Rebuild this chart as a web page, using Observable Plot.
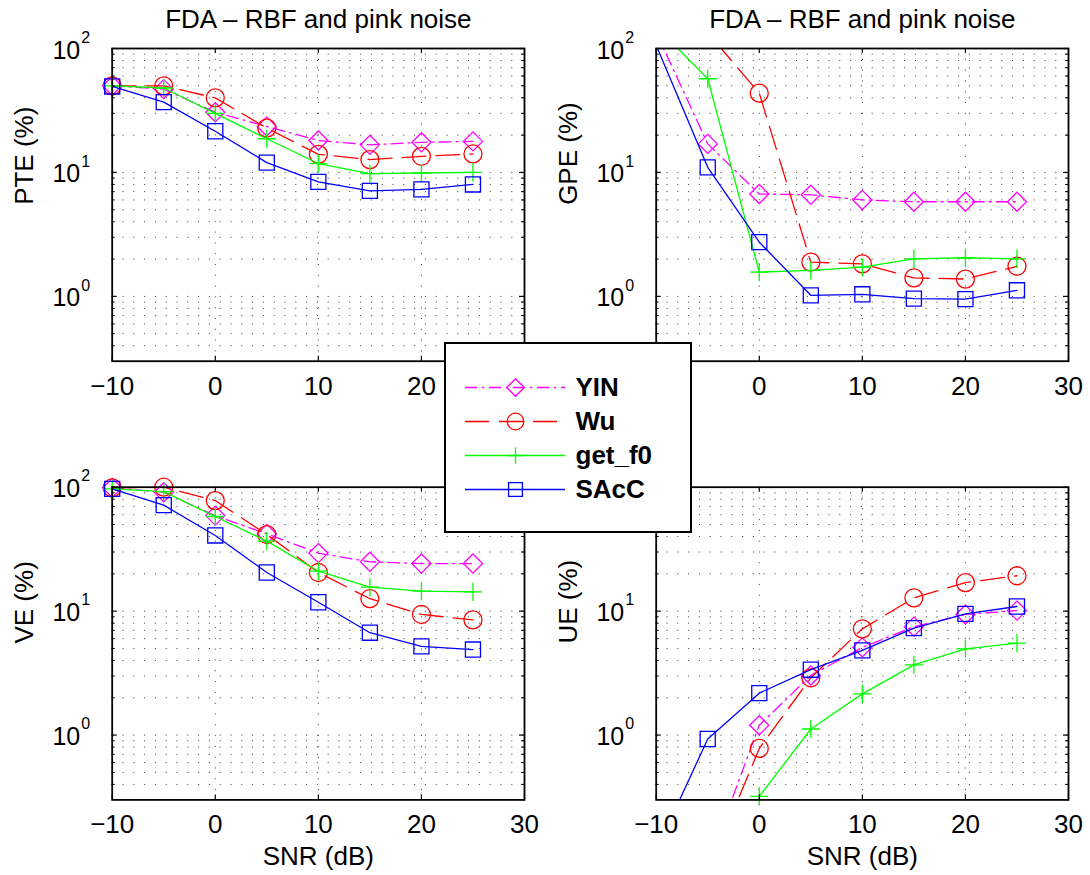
<!DOCTYPE html>
<html>
<head>
<meta charset="utf-8">
<script src="https://cdn.jsdelivr.net/npm/d3@7"></script>
<script src="https://cdn.jsdelivr.net/npm/@observablehq/plot@0.6"></script>
<style>
  body { margin: 0; background: #fff; }
  #fig { position: relative; width: 1090px; height: 875px; background: #fff;
         font-family: "Liberation Sans", Arial, Helvetica, sans-serif; }
  #fig > div { position: absolute; }
  #legend { box-sizing: border-box; border: 2px solid #000; background: #fff; z-index: 5; }
  svg { overflow: visible; }
</style>
</head>
<body>
<div id="fig"></div>
<script>
// ---------- data ----------
const snr = [-10, -5, 0, 5, 10, 15, 20, 25];
const methods = ["YIN", "Wu", "get_f0", "SAcC"];
const colors = ["#ff00ff", "#ff0000", "#00ff00", "#0000ff"];
const symbols = ["diamond2", "circle", "plus", "square2"];
const dashes = ["12,5,2,5", "24,10", null, null];
const symbolR = [8.6, 9, 5.9, 9.6];

const titleText = "FDA \u2013 RBF and pink noise";
const xLabelText = "SNR (dB)";

// PTE (%)
const pteYIN   = [50, 47, 30.6, 23.5, 18.1, 16.7, 17.5, 17.8];
const pteWu    = [50, 50, 40, 22.8, 14, 12.7, 13.5, 14.1];
const pteGetF0 = [50, 48, 30, 18.7, 11.8, 9.8, 9.9, 10];
const pteSAcC  = [49.4, 36.9, 21.5, 12, 8.4, 7.1, 7.3, 8.0];
// GPE (%)
const gpeYIN   = [135, 17, 6.7, 6.6, 6.0, 5.8, 5.8, 5.8];
const gpeWu    = [200, 134, 43.6, 1.89, 1.83, 1.41, 1.38, 1.75];
const gpeGetF0 = [150, 57, 1.57, 1.62, 1.72, 2.01, 2.05, 2.01];
const gpeSAcC  = [106, 11, 2.74, 1.02, 1.04, 0.96, 0.95, 1.12];
// VE (%)
const veYIN    = [98.8, 91, 59, 42, 29.4, 25, 24.2, 24.2];
const veWu     = [98.8, 100, 78, 41.5, 20.5, 12.6, 9.4, 8.5];
const veGetF0  = [97, 92, 58, 36.7, 21, 15.6, 14.5, 14.3];
const veSAcC   = [97, 71.6, 40.8, 20.5, 11.8, 6.7, 5.2, 4.9];
// UE (%)
const ueYIN    = [0.02, 0.09, 1.2, 3.03, 5.1, 7.5, 9.4, 10.1];
const ueWu     = [0.01, 0.078, 0.78, 2.9, 7.2, 12.8, 17, 19.3];
const ueGetF0  = [null, null, 0.32, 1.12, 2.15, 3.69, 4.97, 5.52];
const ueSAcC   = [0.117, 0.93, 2.18, 3.37, 4.82, 7.3, 9.5, 10.9];

const xTicks = [-10, 0, 10, 20, 30];
const xGrid = [0, 10, 20];
const yDomain = [0.3, 100];
const yDecades = [1, 10, 100];
const yMinor = [0.4, 0.5, 0.6, 0.7, 0.8, 0.9, 2, 3, 4, 5, 6, 7, 8, 9, 20, 30, 40, 50, 60, 70, 80, 90];
const yGrid = yMinor.concat([1, 10]);

// ---------- layout ----------
const FONT = "Liberation Sans, Arial, Helvetica, sans-serif";
// labels hidden behind the legend box in the original are not drawn
const panels = [
  {ylabel: "PTE (%)", series: [pteYIN, pteWu, pteGetF0, pteSAcC], title: true, xlabel: false,
   xLabels: [-10, 0, 10, 20], yLabels: [1, 10, 100],
   left: 0, top: 0, width: 545, height: 437, mL: 111.7, mR: 21, mT: 48, mB: 76.3},
  {ylabel: "GPE (%)", series: [gpeYIN, gpeWu, gpeGetF0, gpeSAcC], title: true, xlabel: false,
   xLabels: [0, 10, 20, 30], yLabels: [1, 10, 100],
   left: 545, top: 0, width: 545, height: 437, mL: 110.7, mR: 22, mT: 48, mB: 76.3},
  {ylabel: "VE (%)", series: [veYIN, veWu, veGetF0, veSAcC], title: false, xlabel: true,
   xLabels: [-10, 0, 10, 20, 30], yLabels: [1, 10, 100],
   left: 0, top: 437, width: 545, height: 438, mL: 111.7, mR: 21, mT: 49.7, mB: 75.6},
  {ylabel: "UE (%)", series: [ueYIN, ueWu, ueGetF0, ueSAcC], title: false, xlabel: true,
   xLabels: [-10, 0, 10, 20, 30], yLabels: [1, 10],
   left: 545, top: 437, width: 545, height: 438, mL: 110.7, mR: 22, mT: 49.7, mB: 75.6}
];

const fig = document.getElementById("fig");
const fmt = d => d < 0 ? "\u2212" + (-d) : String(d);

for (const p of panels) {
  const fw = p.width - p.mL - p.mR;
  const fh = p.height - p.mT - p.mB;
  const marks = [];
  // grid
  marks.push(Plot.ruleY(yGrid, {y: d => d, stroke: "#000", strokeOpacity: 0.8, strokeWidth: 1, strokeDasharray: "1,9.8"}));
  marks.push(Plot.ruleX(xGrid, {x: d => d, stroke: "#000", strokeOpacity: 0.8, strokeWidth: 1, strokeDasharray: "1,9.8"}));
  // series
  methods.forEach((m, i) => {
    const rows = snr.map((x, j) => ({x, y: p.series[i][j]}));
    marks.push(Plot.line(rows, {
      x: "x", y: "y", stroke: colors[i], strokeWidth: 1.3,
      strokeDasharray: dashes[i] || undefined, clip: true,
      defined: d => d.y != null
    }));
    const visible = rows.filter(d => d.y != null && d.y >= yDomain[0] && d.y <= yDomain[1]);
    marks.push(Plot.dot(visible, {
      x: "x", y: "y", symbol: () => symbols[i], r: symbolR[i],
      stroke: colors[i], fill: "none", strokeWidth: 1.3
    }));
  });
  // ticks (inward, all four sides)
  marks.push(Plot.tickX(xTicks, {x: d => d, insetTop: fh - 5, stroke: "#000", strokeWidth: 1.2}));
  marks.push(Plot.tickX(xTicks, {x: d => d, insetBottom: fh - 5, stroke: "#000", strokeWidth: 1.2}));
  marks.push(Plot.tickY(yDecades, {y: d => d, insetRight: fw - 5, stroke: "#000", strokeWidth: 1.2}));
  marks.push(Plot.tickY(yDecades, {y: d => d, insetLeft: fw - 5, stroke: "#000", strokeWidth: 1.2}));
  marks.push(Plot.tickY(yMinor, {y: d => d, insetRight: fw - 3, stroke: "#000", strokeWidth: 1}));
  marks.push(Plot.tickY(yMinor, {y: d => d, insetLeft: fw - 3, stroke: "#000", strokeWidth: 1}));
  marks.push(Plot.frame({stroke: "#000", strokeWidth: 1.8}));
  // tick labels
  marks.push(Plot.text(p.xLabels, {x: d => d, text: fmt, frameAnchor: "bottom", lineAnchor: "top",
    dy: 15, fontSize: 26, fill: "#000"}));
  marks.push(Plot.text(p.yLabels, {y: d => d, text: () => "10", frameAnchor: "left", textAnchor: "end",
    lineAnchor: "middle", dx: -32, dy: 2, fontSize: 25, fill: "#000"}));
  marks.push(Plot.text(p.yLabels, {y: d => d, text: d => String(Math.round(Math.log10(d))), frameAnchor: "left",
    textAnchor: "start", lineAnchor: "middle", dx: -31, dy: -11, fontSize: 16, fill: "#000"}));
  // labels
  marks.push(Plot.text([p.ylabel], {text: d => d, frameAnchor: "left", rotate: -90, lineAnchor: "bottom",
    dx: -79, fontSize: 26, fill: "#000"}));
  if (p.title) marks.push(Plot.text([titleText], {text: d => d, frameAnchor: "top", lineAnchor: "bottom",
    dy: -21, fontSize: 26, fill: "#000"}));
  if (p.xlabel) marks.push(Plot.text([xLabelText], {text: d => d, frameAnchor: "bottom", lineAnchor: "bottom",
    dy: 65.5, fontSize: 26, fill: "#000"}));

  const chart = Plot.plot({
    width: p.width, height: p.height,
    marginLeft: p.mL, marginRight: p.mR, marginTop: p.mT, marginBottom: p.mB,
    x: {domain: [-10, 30], axis: null},
    y: {type: "log", domain: yDomain, axis: null},
    style: {fontFamily: FONT, background: "transparent", overflow: "visible"},
    marks
  });
  const holder = document.createElement("div");
  holder.style.left = p.left + "px";
  holder.style.top = p.top + "px";
  holder.appendChild(chart);
  fig.appendChild(holder);
}

// ---------- legend ----------
const legend = Plot.plot({
  width: 244, height: 187, margin: 0,
  x: {domain: [0, 1], range: [19, 119], axis: null},
  y: {type: "point", domain: methods, range: [26, 162], axis: null},
  style: {fontFamily: FONT, background: "transparent", overflow: "visible"},
  marks: [
    ...methods.map((m, i) => Plot.ruleY([m], {y: d => d, x1: 0, x2: 1, stroke: colors[i], strokeWidth: 1.3,
      strokeDasharray: dashes[i] || undefined})),
    ...methods.map((m, i) => Plot.dot([m], {x: 0.5, y: d => d, symbol: () => symbols[i], r: symbolR[i] * 0.92,
      stroke: colors[i], fill: "none", strokeWidth: 1.3})),
    Plot.text(methods, {x: 1, y: d => d, text: d => d, textAnchor: "start", lineAnchor: "middle",
      dx: 10, fontSize: 26, fontWeight: "bold", fill: "#000"})
  ]
});
const lg = document.createElement("div");
lg.id = "legend";
lg.style.left = "444px"; lg.style.top = "342px";
lg.style.width = "248px"; lg.style.height = "191px";
lg.appendChild(legend);
fig.appendChild(lg);
</script>
</body>
</html>
